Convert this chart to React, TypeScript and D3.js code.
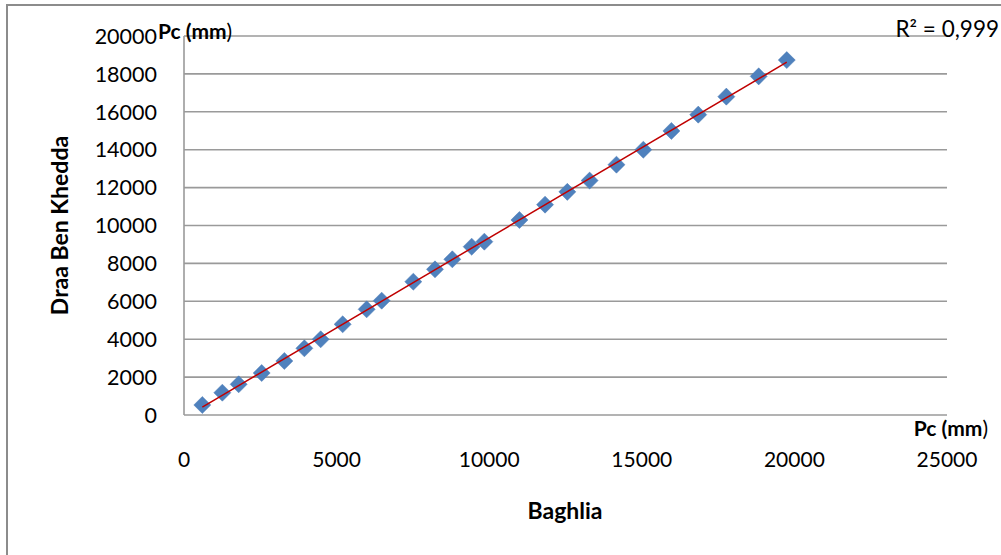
import React from "react";
import * as d3 from "d3";

// Annual rainfall Pc (mm): Baghlia (x) vs Draa Ben Khedda (y)
const baghlia = [
  600, 1256, 1791, 2545, 3288, 3944, 4478, 5199, 5985, 6477, 7514, 8224, 8792,
  9426, 9841, 10990, 11830, 12560, 13290, 14170, 15050, 15970, 16850, 17770,
  18830, 19750,
];
const draaBenKhedda = [
  528, 1177, 1620, 2216, 2850, 3518, 3994, 4785, 5576, 6033, 7036, 7687, 8215,
  8883, 9147, 10290, 11100, 11775, 12370, 13210, 14000, 14990, 15850, 16800,
  17870, 18730,
];
const xTicks = [0, 5000, 10000, 15000, 20000, 25000];
const yTicks = [0, 2000, 4000, 6000, 8000, 10000, 12000, 14000, 16000, 18000, 20000];
const r2Label = "R² = 0,999";

const W = 1001;
const H = 555;
const dm = { left: 184, right: 947, top: 36, bottom: 415 };
const font = "Lato, 'Open Sans', sans-serif";

function fitLine(xs: number[], ys: number[]) {
  const mx = d3.mean(xs)!;
  const my = d3.mean(ys)!;
  let num = 0;
  let den = 0;
  xs.forEach((x, i) => {
    num += (x - mx) * (ys[i] - my);
    den += (x - mx) * (x - mx);
  });
  const slope = num / den;
  return { slope, intercept: my - slope * mx };
}

export default function App() {
  const xScale = d3.scaleLinear().domain([0, 25000]).range([dm.left, dm.right]);
  const yScale = d3.scaleLinear().domain([0, 20000]).range([dm.bottom, dm.top]);
  const points = baghlia.map((x, i) => ({ x, y: draaBenKhedda[i] }));
  const { slope, intercept } = fitLine(baghlia, draaBenKhedda);
  const x0 = d3.min(baghlia)!;
  const x1 = d3.max(baghlia)!;
  const trend = d3.line<number>()
    .x(d => xScale(d))
    .y(d => yScale(slope * d + intercept))([x0, x1]);
  const diamond = d3.symbol().type(d3.symbolDiamond2).size(185)()!;

  return (
    <div style={{ position: "absolute", left: 0, top: 0 }}>
      <svg width={W} height={H} style={{ display: "block", background: "#fff" }}>
        <rect x={7} y={5} width={W + 10} height={H + 10} fill="#fff" stroke="#8c8c8c" strokeWidth={2} />
        {yTicks.map(t => (
          <line key={"g" + t} x1={dm.left} x2={dm.right} y1={yScale(t)} y2={yScale(t)}
            stroke="#9a9a9a" strokeWidth={1.6} />
        ))}
        <line x1={dm.left} x2={dm.left} y1={dm.top} y2={dm.bottom} stroke="#9a9a9a" strokeWidth={1.6} />
        {yTicks.map(t => (
          <text key={"y" + t} x={157} y={yScale(t)} dy="0.36em" textAnchor="end"
            fontFamily={font} fontSize={21.5} fill="#000">{t}</text>
        ))}
        {xTicks.map(t => (
          <text key={"x" + t} x={xScale(t)} y={459} dy="0.36em" textAnchor="middle"
            fontFamily={font} fontSize={21} fill="#000">{t}</text>
        ))}
        {points.map((p, i) => (
          <path key={i} d={diamond} transform={`translate(${xScale(p.x)},${yScale(p.y)})`}
            fill="#4f81bd" stroke="#4a7ab5" strokeWidth={0.5} />
        ))}
        <path d={trend!} fill="none" stroke="#c00000" strokeWidth={1.5} />
        <text x={999} y={29} dy="0.36em" textAnchor="end" fontFamily={font} fontSize={22.5} fill="#000">{r2Label}</text>
        <text x={158} y={31} dy="0.36em" fontFamily={font} fontSize={21} fill="#000">
          <tspan fontWeight="bold">Pc (mm</tspan><tspan>)</tspan>
        </text>
        <text x={988} y={428} dy="0.36em" textAnchor="end" fontFamily={font} fontSize={21} fill="#000">
          <tspan fontWeight="bold">Pc (mm</tspan><tspan>)</tspan>
        </text>
        <text x={565} y={511} dy="0.36em" textAnchor="middle" fontFamily={font} fontSize={23}
          fontWeight="bold" fill="#000">Baghlia</text>
        <text transform={`translate(60,${(dm.top + dm.bottom) / 2}) rotate(-90)`} dy="0.36em"
          textAnchor="middle" fontFamily={font} fontSize={23} fontWeight="bold" fill="#000">Draa Ben Khedda</text>
      </svg>
    </div>
  );
}
